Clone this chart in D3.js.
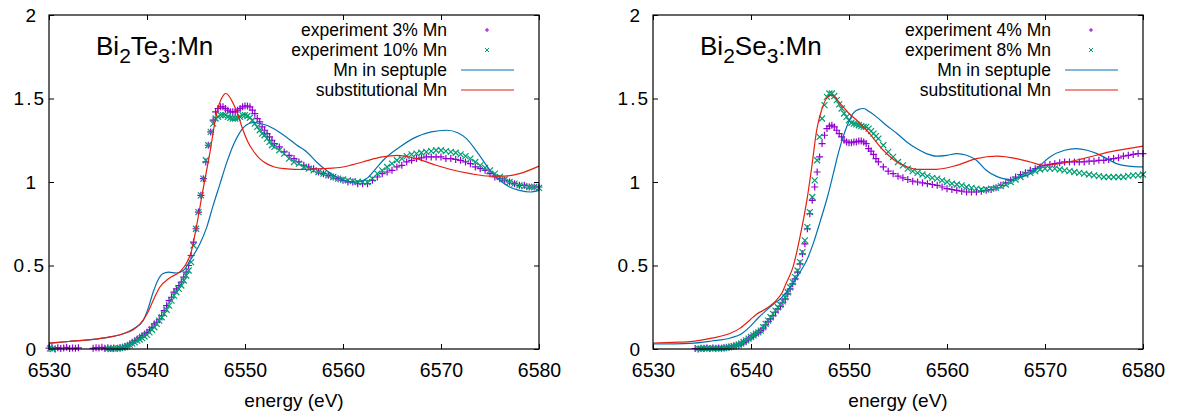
<!DOCTYPE html>
<html lang="en">
<head>
<meta charset="UTF-8">
<title>Mn K-edge XANES</title>
<style>
  html, body { margin: 0; background: #fff; overflow: hidden; }
  svg { display: block; font-family: "Liberation Sans", Arial, sans-serif; }
</style>
</head>
<body>
<div id="chart"></div>
<script src="https://cdnjs.cloudflare.com/ajax/libs/d3/7.8.5/d3.min.js"></script>
<script>

// ---- axes
var xTicks = [6530, 6540, 6550, 6560, 6570, 6580];
var yTicks = [0, 0.5, 1, 1.5, 2];

// ---- energy grid of the measured spectra (eV)
var gridFine = [
  6537, 6537.25, 6537.5, 6537.75,
  6538, 6538.25, 6538.5, 6538.75,
  6539, 6539.25, 6539.5, 6539.75,
  6540, 6540.25, 6540.5, 6540.75,
  6541, 6541.25, 6541.5, 6541.75,
  6542, 6542.25, 6542.5, 6542.75,
  6543, 6543.25, 6543.5, 6543.75,
  6544, 6544.25, 6544.5, 6544.75,
  6545, 6545.25, 6545.5, 6545.75,
  6546, 6546.25, 6546.5, 6546.75,
  6547, 6547.25, 6547.5, 6547.75,
  6548, 6548.25, 6548.5, 6548.75,
  6549, 6549.25, 6549.5, 6549.75,
  6550, 6550.25, 6550.5, 6550.75,
  6551, 6551.25, 6551.5, 6551.75,
  6552, 6552.25, 6552.5, 6552.75
];
var gridCoarse = [
  6553, 6553.5, 6554, 6554.5, 6555, 6555.5, 6556, 6556.5, 6557, 6557.5,
  6558, 6558.5, 6559, 6559.5, 6560, 6560.5, 6561, 6561.5, 6562, 6562.5,
  6563, 6563.5, 6564, 6564.5, 6565, 6565.5, 6566, 6566.5, 6567, 6567.5,
  6568, 6568.5, 6569, 6569.5, 6570, 6570.5, 6571, 6571.5, 6572, 6572.5,
  6573, 6573.5, 6574, 6574.5, 6575, 6575.5, 6576, 6576.5, 6577, 6577.5,
  6578, 6578.5, 6579, 6579.5, 6580
];

// ---- Bi2Te3:Mn, experiment 3% Mn
var te3Pre = [[6530.0,.005],[6530.3,.010],[6530.6,.000],[6530.9,.008],[6531.2,.003],[6531.5,.006],
  [6531.8,.010],[6532.1,.003],[6532.4,.006],[6532.7,.004],[6533.0,.007],[6534.5,.004],[6534.8,.008],
  [6535.1,.006],[6535.4,.010],[6535.7,.004],[6536.0,.007],[6536.3,.005],[6536.6,.006]];
var te3 = [
  .005, .008, .010, .014,
  .020, .030, .040, .050,
  .060, .070, .080, .090,
  .100, .115, .130, .150,
  .160, .175, .200, .230,
  .260, .290, .310, .340,
  .360, .380, .400, .430,
  .460, .500, .560, .640,
  .720, .820, .920, 1.02,
  1.12, 1.22, 1.30, 1.37,
  1.42, 1.44, 1.45, 1.45,
  1.44, 1.43, 1.42, 1.42,
  1.42, 1.43, 1.44, 1.45,
  1.455, 1.455, 1.45, 1.43,
  1.41, 1.38, 1.36, 1.33,
  1.31, 1.29, 1.27, 1.25,
  1.23, 1.21, 1.18, 1.16, 1.14, 1.12, 1.10, 1.09, 1.08, 1.06,
  1.05, 1.04, 1.03, 1.02, 1.01, 1.00, 1.00, 0.99, 0.99, 0.99,
  1.01, 1.03, 1.05, 1.06, 1.07, 1.09, 1.10, 1.12, 1.13, 1.14,
  1.145, 1.15, 1.15, 1.15, 1.15, 1.14, 1.14, 1.135, 1.13, 1.12,
  1.11, 1.09, 1.08, 1.07, 1.05, 1.03, 1.02, 1.01, 1.00, 0.99,
  0.98, 0.98, 0.97, 0.97, 0.97
];

// ---- Bi2Te3:Mn, experiment 10% Mn
var te10Pre = [[6530.1,.004],[6530.4,.000],[6536.0,.002],[6536.3,.000],[6536.6,.004]];
var te10 = [
  .003, .005, .008, .012,
  .018, .025, .032, .040,
  .050, .057, .065, .075,
  .085, .100, .115, .130,
  .150, .170, .190, .210,
  .235, .260, .290, .320,
  .340, .360, .380, .410,
  .440, .470, .520, .620,
  .720, .820, .920, 1.02,
  1.13, 1.22, 1.30, 1.35,
  1.38, 1.39, 1.40, 1.40,
  1.40, 1.39, 1.385, 1.38,
  1.38, 1.385, 1.39, 1.40,
  1.40, 1.395, 1.385, 1.37,
  1.35, 1.33, 1.31, 1.29,
  1.28, 1.26, 1.24, 1.22,
  1.21, 1.19, 1.17, 1.14, 1.12, 1.11, 1.09, 1.08, 1.07, 1.06,
  1.05, 1.04, 1.03, 1.02, 1.015, 1.01, 1.005, 1.00, 1.00, 1.00,
  1.02, 1.05, 1.07, 1.09, 1.11, 1.13, 1.14, 1.155, 1.165, 1.17,
  1.175, 1.18, 1.185, 1.19, 1.19, 1.185, 1.18, 1.175, 1.165, 1.155,
  1.14, 1.12, 1.10, 1.085, 1.07, 1.05, 1.03, 1.015, 1.00, 0.99,
  0.98, 0.975, 0.97, 0.97, 0.965
];

// ---- Bi2Te3:Mn, calculated spectra [energy, value]
var teSeptuple = [[6530,.035],[6532,.045],[6534,.055],[6536,.07],[6537.5,.09],[6538.6,.12],[6539.6,.17],
  [6540.1,.24],[6540.6,.335],[6541.1,.41],[6541.6,.45],[6542.2,.46],[6543,.455],[6543.7,.47],[6544.4,.53],
  [6545.4,.63],[6546.1,.73],[6546.7,.85],[6547.4,.98],[6548.1,1.11],[6548.8,1.22],[6549.4,1.29],[6550.1,1.34],
  [6550.8,1.355],[6552.2,1.34],[6553.2,1.31],[6554.2,1.27],[6555.3,1.22],[6556.3,1.18],[6557.3,1.12],
  [6558.3,1.07],[6559.3,1.03],[6560.4,1.005],[6561.4,1.0],[6562.4,1.02],[6563.2,1.07],[6564.1,1.13],
  [6565.8,1.21],[6567.5,1.27],[6569,1.30],[6570.6,1.31],[6571.7,1.295],[6572.6,1.26],[6573.8,1.17],
  [6575,1.07],[6576,1.01],[6577,.97],[6578,.95],[6579.1,.94],[6580,.95]];
var teSubst = [[6530,.035],[6532,.045],[6534,.055],[6536,.07],[6537.5,.09],[6538.6,.115],[6539.3,.15],
  [6540,.21],[6540.7,.30],[6541.3,.37],[6542.3,.425],[6543.4,.465],[6544,.51],[6544.5,.58],[6545.1,.75],
  [6545.7,.95],[6546.4,1.17],[6547.1,1.41],[6547.6,1.50],[6548.05,1.53],[6548.8,1.47],[6549.3,1.40],
  [6549.8,1.31],[6550.3,1.24],[6550.8,1.19],[6551.5,1.14],[6552.2,1.11],[6553,1.09],[6554,1.08],
  [6556,1.075],[6558,1.08],[6560,1.09],[6562,1.12],[6564,1.15],[6565.5,1.16],[6567.5,1.14],[6569.5,1.10],
  [6571,1.075],[6573,1.05],[6575,1.035],[6576.5,1.035],[6578,1.05],[6580,1.095]];

// ---- Bi2Se3:Mn, experiment 4% Mn
var se4Pre = [[6534.3,.003],[6534.6,.000],[6534.9,.005],[6535.2,.004],[6535.5,.006],[6535.8,.003],
  [6536.1,.006],[6536.4,.004],[6536.7,.006]];
var se4 = [
  .005, .007, .010, .012,
  .015, .018, .020, .023,
  .030, .040, .050, .060,
  .070, .080, .090, .100,
  .110, .125, .145, .165,
  .180, .200, .220, .240,
  .255, .280, .300, .330,
  .360, .390, .420, .460,
  .510, .570, .630, .720,
  .810, .890, .970, 1.06,
  1.15, 1.23, 1.28, 1.32,
  1.335, 1.34, 1.33, 1.31,
  1.29, 1.27, 1.25, 1.24,
  1.235, 1.235, 1.24, 1.24,
  1.245, 1.245, 1.24, 1.23,
  1.20, 1.185, 1.165, 1.14,
  1.12, 1.09, 1.065, 1.05, 1.035, 1.025, 1.015, 1.005, 1.00, 0.995,
  0.99, 0.985, 0.98, 0.97, 0.96, 0.955, 0.95, 0.945, 0.94, 0.94,
  0.94, 0.945, 0.95, 0.955, 0.965, 0.98, 0.995, 1.01, 1.03, 1.045,
  1.055, 1.07, 1.08, 1.09, 1.10, 1.105, 1.11, 1.115, 1.12, 1.12,
  1.12, 1.12, 1.12, 1.125, 1.125, 1.13, 1.13, 1.135, 1.14, 1.145,
  1.155, 1.16, 1.165, 1.17, 1.17
];

// ---- Bi2Se3:Mn, experiment 8% Mn
var se8Pre = [[6534.6,.004],[6534.9,.001],[6535.2,.005],[6535.5,.003],[6535.8,.005],[6536.1,.002],
  [6536.4,.005],[6536.7,.004]];
var se8 = [
  .004, .006, .008, .010,
  .013, .017, .022, .027,
  .033, .042, .052, .062,
  .072, .082, .092, .100,
  .110, .130, .150, .170,
  .190, .210, .230, .250,
  .265, .285, .310, .340,
  .370, .400, .430, .470,
  .520, .580, .650, .730,
  .820, .910, 1.01, 1.13,
  1.27, 1.38, 1.46, 1.51,
  1.53, 1.53, 1.515, 1.49,
  1.465, 1.44, 1.41, 1.39,
  1.37, 1.355, 1.35, 1.345,
  1.34, 1.335, 1.33, 1.33,
  1.32, 1.305, 1.29, 1.275,
  1.26, 1.22, 1.18, 1.15, 1.12, 1.10, 1.08, 1.065, 1.055, 1.045,
  1.035, 1.025, 1.02, 1.01, 1.00, 0.99, 0.985, 0.98, 0.97, 0.965,
  0.96, 0.955, 0.955, 0.96, 0.965, 0.975, 0.985, 1.00, 1.015, 1.03,
  1.045, 1.055, 1.065, 1.075, 1.08, 1.08, 1.08, 1.075, 1.07, 1.065,
  1.06, 1.055, 1.05, 1.045, 1.04, 1.035, 1.03, 1.03, 1.03, 1.03,
  1.03, 1.035, 1.04, 1.04, 1.045
];

// ---- Bi2Se3:Mn, calculated spectra [energy, value]
var seSeptuple = [[6530,.03],[6533.8,.034],[6536,.048],[6537.9,.066],[6539,.09],[6539.9,.134],[6540.8,.19],
  [6541.6,.233],[6542.3,.27],[6543,.30],[6543.6,.34],[6544.3,.393],[6545,.46],[6545.7,.533],[6546.4,.64],
  [6547.1,.772],[6547.8,.91],[6548.4,1.05],[6548.9,1.17],[6549.4,1.27],[6549.9,1.35],[6550.4,1.41],
  [6551,1.435],[6551.5,1.44],[6552.1,1.42],[6552.8,1.39],[6553.8,1.34],[6554.9,1.29],[6555.9,1.24],
  [6556.9,1.20],[6557.9,1.17],[6558.9,1.155],[6560,1.16],[6561,1.17],[6562,1.16],[6563,1.13],[6564,1.07],
  [6565,1.035],[6566.4,1.015],[6567.5,1.03],[6568.5,1.05],[6569.5,1.10],[6570.5,1.15],[6572,1.19],
  [6573.2,1.20],[6574.3,1.19],[6575.3,1.17],[6576.3,1.14],[6577.3,1.11],[6578.5,1.095],[6580,1.09]];
var seSubst = [[6530,.035],[6532,.04],[6533.8,.044],[6536,.065],[6537.9,.094],[6538.9,.125],[6539.9,.174],
  [6540.6,.21],[6541.3,.233],[6542,.26],[6542.6,.293],[6543.2,.34],[6543.6,.395],[6544.3,.493],[6545,.672],
  [6545.7,.89],[6546.2,1.09],[6546.7,1.31],[6547.2,1.43],[6547.7,1.50],[6548.2,1.52],[6549.1,1.47],
  [6550,1.41],[6550.8,1.37],[6552.1,1.29],[6553.5,1.19],[6554.9,1.12],[6556,1.09],[6556.9,1.076],
  [6558.9,1.076],[6561,1.10],[6563,1.14],[6565.1,1.155],[6567.1,1.14],[6568.5,1.12],[6569.8,1.10],
  [6571.5,1.11],[6573.9,1.14],[6576.6,1.18],[6580,1.215]];

var PURPLE = '#9400d3', GREEN = '#009e73', BLUE = '#0072b2', RED = '#e51e10';

// measured series = pre-edge points + gridded points
function measured(pre, vals) {
  var grid = gridFine.concat(gridCoarse);
  return pre.concat(vals.map(function(v, i) { return [grid[i], v]; }));
}

var panels = [
  { left: 49, compound: ['Bi', '2', 'Te', '3'],
    points: [
      { name: 'experiment 3% Mn', data: measured(te3Pre, te3), color: PURPLE, shape: 'plus' },
      { name: 'experiment 10% Mn', data: measured(te10Pre, te10), color: GREEN, shape: 'cross' }
    ],
    lines: [
      { name: 'Mn in septuple', data: teSeptuple, color: BLUE },
      { name: 'substitutional Mn', data: teSubst, color: RED }
    ] },
  { left: 653, compound: ['Bi', '2', 'Se', '3'],
    points: [
      { name: 'experiment 4% Mn', data: measured(se4Pre, se4), color: PURPLE, shape: 'plus' },
      { name: 'experiment 8% Mn', data: measured(se8Pre, se8), color: GREEN, shape: 'cross' }
    ],
    lines: [
      { name: 'Mn in septuple', data: seSeptuple, color: BLUE },
      { name: 'substitutional Mn', data: seSubst, color: RED }
    ] }
];

var W = 1177, H = 415;
var plotTop = 15, pw = 490, ph = 334;

var svg = d3.select('#chart').append('svg')
  .attr('width', W)
  .attr('height', H);

var shapes = {
  plus: function(s) { return 'M' + (-s) + ',0H' + s + 'M0,' + (-s) + 'V' + s; },
  cross: function(s) { return 'M' + (-s) + ',' + (-s) + 'L' + s + ',' + s + 'M' + (-s) + ',' + s + 'L' + s + ',' + (-s); }
};

panels.forEach(function(p) {
  var g = svg.append('g').attr('transform', 'translate(' + p.left + ',' + plotTop + ')');

  var x = d3.scaleLinear().domain([6530, 6580]).range([0, pw]);
  var y = d3.scaleLinear().domain([0, 2]).range([ph, 0]);

  // ticks (inward, mirrored on all sides)
  var bottom = g.append('g').attr('transform', 'translate(0,' + ph + ')')
    .call(d3.axisBottom(x).tickValues(xTicks).tickSize(-5).tickPadding(14).tickFormat(d3.format('d')));
  g.append('g').call(d3.axisTop(x).tickValues(xTicks).tickSize(-5).tickFormat(''));
  var leftAx = g.append('g')
    .call(d3.axisLeft(y).tickValues(yTicks).tickSize(-5).tickFormat(d3.format('')));
  g.append('g').attr('transform', 'translate(' + pw + ',0)')
    .call(d3.axisRight(y).tickValues(yTicks).tickSize(-5).tickFormat(''));

  g.selectAll('.domain').remove();
  g.selectAll('.tick line').attr('stroke', '#000');
  bottom.selectAll('text').attr('font-size', 19.5).attr('fill', '#000').attr('font-family', null);
  // integer y labels sit further from the axis than the decimal ones
  leftAx.selectAll('text')
    .attr('font-size', 19).attr('fill', '#000').attr('font-family', null)
    .attr('letter-spacing', function(d) { return Number.isInteger(d) ? 0 : 2; })
    .attr('x', function(d) { return Number.isInteger(d) ? -13 : -3; });

  // measured points
  p.points.forEach(function(s) {
    g.append('g').selectAll('path')
      .data(s.data)
      .join('path')
      .attr('transform', function(d) { return 'translate(' + x(d[0]) + ',' + y(d[1]) + ')'; })
      .attr('d', shapes[s.shape](s.shape === 'plus' ? 3.5 : 3))
      .attr('fill', 'none')
      .attr('stroke', s.color)
      .attr('stroke-width', 1.2);
  });

  // calculated curves
  var line = d3.line()
    .x(function(d) { return x(d[0]); })
    .y(function(d) { return y(d[1]); })
    .curve(d3.curveMonotoneX);
  p.lines.forEach(function(s) {
    g.append('path')
      .datum(s.data)
      .attr('d', line)
      .attr('fill', 'none')
      .attr('stroke', s.color)
      .attr('stroke-width', 1.2);
  });

  // frame
  g.append('rect')
    .attr('width', pw).attr('height', ph)
    .attr('fill', 'none').attr('stroke', '#000').attr('stroke-width', 1.2);

  // compound label
  var t = g.append('text').attr('x', 47).attr('y', 40).attr('font-size', 26);
  t.append('tspan').text(p.compound[0]);
  t.append('tspan').attr('font-size', 21).attr('dy', 8).text(p.compound[1]);
  t.append('tspan').attr('dy', -8).text(p.compound[2]);
  t.append('tspan').attr('font-size', 21).attr('dy', 8).text(p.compound[3]);
  t.append('tspan').attr('dy', -8).text(':Mn');

  // legend
  var entries = p.points.concat(p.lines);
  var lg = g.append('g').attr('transform', 'translate(398,15)');
  entries.forEach(function(s, i) {
    var row = lg.append('g').attr('transform', 'translate(0,' + (i * 20) + ')');
    row.append('text').attr('x', 0).attr('y', 6).attr('text-anchor', 'end')
      .attr('font-size', 17.5).text(s.name);
    if (s.shape) {
      row.append('path').attr('transform', 'translate(40,0)')
        .attr('d', shapes[s.shape](2)).attr('fill', 'none')
        .attr('stroke', s.color).attr('stroke-width', 1);
    } else {
      row.append('line').attr('x1', 14).attr('x2', 67)
        .attr('stroke', s.color).attr('stroke-width', 1.2);
    }
  });

  // axis title
  g.append('text').attr('x', pw / 2).attr('y', 392).attr('text-anchor', 'middle')
    .attr('font-size', 19).text('energy (eV)');
});

</script>
</body>
</html>
